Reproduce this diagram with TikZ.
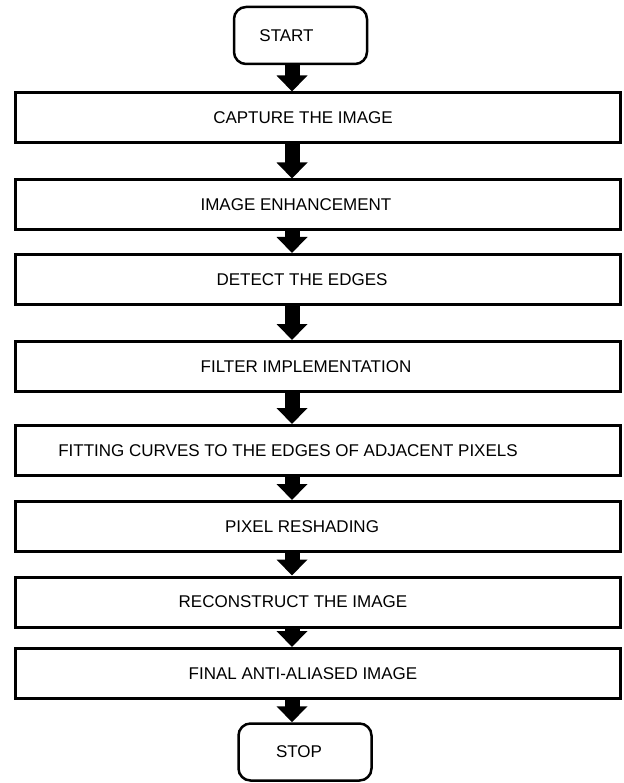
\documentclass[tikz,border=0pt]{standalone}
\usepackage{fontspec}
\setmainfont{Liberation Sans}
\usetikzlibrary{
  positioning,
  arrows.meta
}

\begin{document}
\begin{tikzpicture}[x=1pt, y=-1pt,
    every node/.style={font=\fontsize{17}{20}\selectfont},
    stepbox/.style={draw, line width=3pt, minimum width=605pt, minimum height=50pt, inner sep=0pt},
    endbox/.style={draw, line width=2.5pt, rounded corners=12pt, minimum width=133pt, minimum height=57pt},
    blockarrow/.style={line width=15pt, -{Triangle[length=16pt, width=30pt]}}]
      \useasboundingbox (0,0) rectangle (623,783);

      % Terminals (text sits a bit left of centre)
      \node[endbox] (start) at (300.5,35.5) {START\hspace*{28pt}};
      \node[endbox] (stop) at (305,752) {STOP\hspace*{12pt}};

      % Process steps
      \foreach \y/\name/\sh/\txt in {118/capture/30/CAPTURE THE IMAGE,
          205/enhance/44/IMAGE ENHANCEMENT,
          279.5/detect/32/DETECT THE EDGES,
          366.5/filter/24/FILTER IMPLEMENTATION,
          450.5/fitting/60/FITTING CURVES TO THE EDGES OF ADJACENT PIXELS,
          526.5/reshade/32/PIXEL RESHADING,
          602/reconstruct/50/RECONSTRUCT THE IMAGE,
          673.5/final/30/FINAL ANTI-ALIASED IMAGE} {
        \node[stepbox] (\name) at (318,\y) {\txt\hspace*{\sh pt}};
      }

      % Arrows
      \coordinate (ax) at (292,0);
      \foreach \a/\b in {start/capture, capture/enhance, enhance/detect, detect/filter,
          filter/fitting, fitting/reshade, reshade/reconstruct, reconstruct/final, final/stop} {
        \draw[blockarrow] (\a.south -| ax) -- (\b.north -| ax);
      }
    \end{tikzpicture}
\end{document}
